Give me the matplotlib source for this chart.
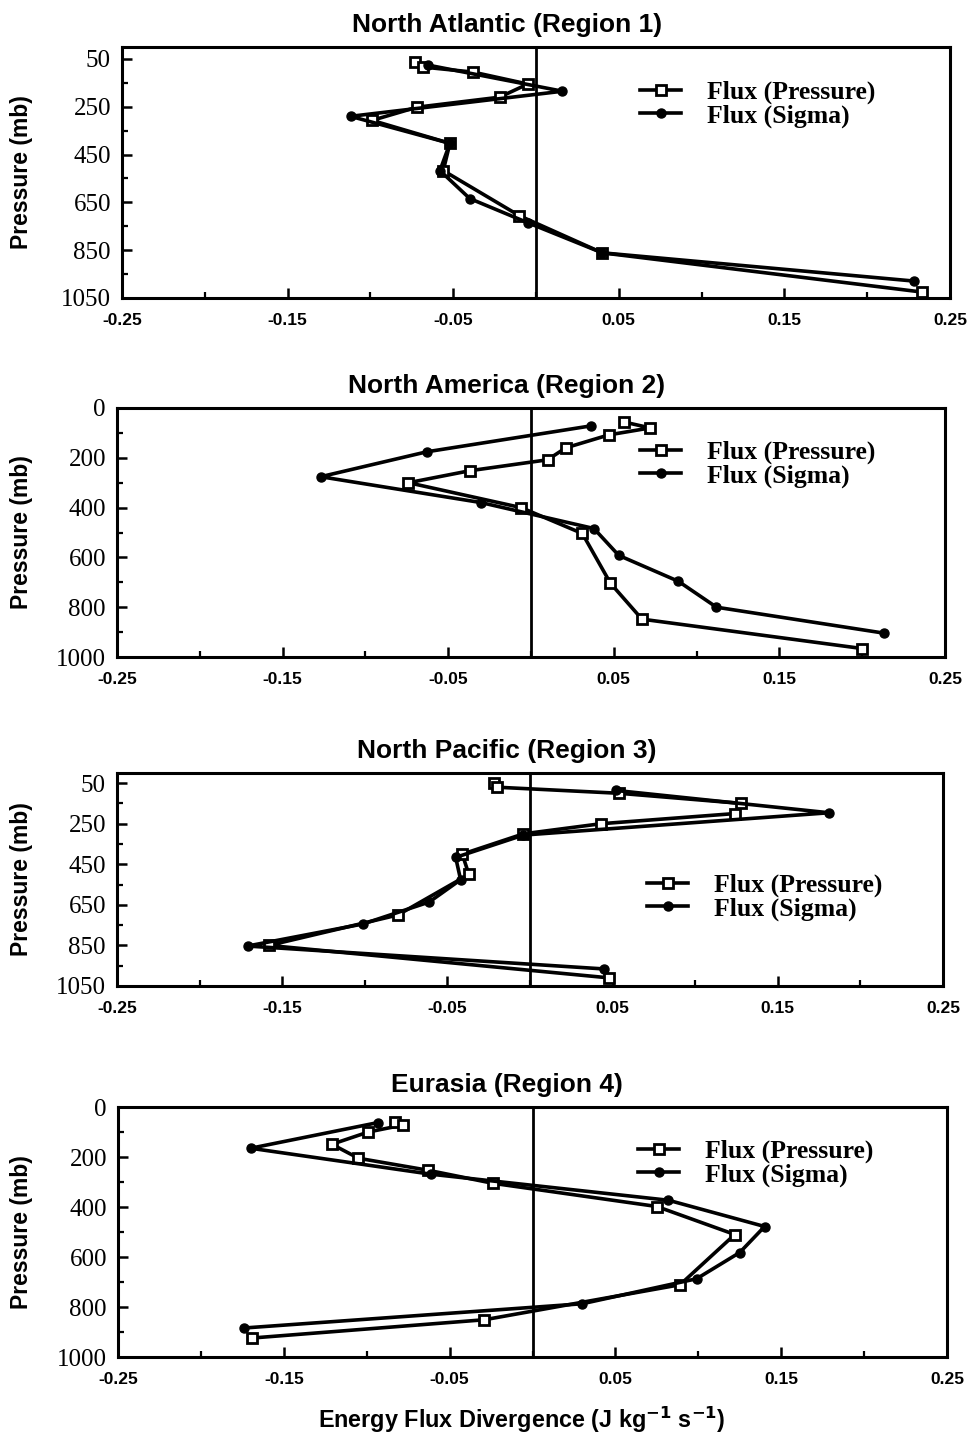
import matplotlib
matplotlib.use("Agg")

import matplotlib.pyplot as plt
from matplotlib.ticker import MultipleLocator, FixedLocator

# North Atlantic (Region 1)
atl_p_lev = [63, 84, 105, 155, 210, 252, 307, 403, 517, 706, 861, 1025]
atl_p_flux = [-0.073, -0.068, -0.038, -0.005, -0.022, -0.072, -0.099, -0.052, -0.056, -0.010, 0.040, 0.233]
atl_s_lev = [76, 185, 290, 403, 517, 634, 735, 861, 979]
atl_s_flux = [-0.065, 0.016, -0.112, -0.052, -0.058, -0.040, -0.005, 0.040, 0.228]

# North America (Region 2)
nam_p_lev = [56, 80, 108, 160, 208, 252, 300, 400, 504, 704, 848, 966]
nam_p_flux = [0.056, 0.072, 0.047, 0.021, 0.010, -0.037, -0.074, -0.006, 0.031, 0.048, 0.067, 0.200]
nam_s_lev = [72, 176, 276, 380, 484, 592, 696, 800, 904]
nam_s_flux = [0.036, -0.063, -0.127, -0.030, 0.038, 0.053, 0.089, 0.112, 0.213]

# North Pacific (Region 3)
npa_p_lev = [50, 70, 100, 150, 200, 250, 300, 400, 500, 700, 850, 1010]
npa_p_flux = [-0.022, -0.020, 0.054, 0.128, 0.124, 0.043, -0.004, -0.041, -0.037, -0.080, -0.158, 0.048]
npa_s_lev = [86, 196, 306, 416, 526, 636, 744, 853, 966]
npa_s_flux = [0.052, 0.181, -0.004, -0.045, -0.042, -0.061, -0.101, -0.171, 0.045]

# Eurasia (Region 4)
eur_p_lev = [60, 72, 100, 149, 205, 253, 305, 398, 510, 711, 851, 924]
eur_p_flux = [-0.083, -0.078, -0.099, -0.121, -0.105, -0.063, -0.024, 0.075, 0.122, 0.089, -0.029, -0.169]
eur_s_lev = [62, 165, 269, 373, 478, 582, 687, 787, 884]
eur_s_flux = [-0.093, -0.170, -0.061, 0.082, 0.140, 0.125, 0.099, 0.030, -0.174]

titles = [
    "North Atlantic (Region 1)",
    "North America (Region 2)",
    "North Pacific (Region 3)",
    "Eurasia (Region 4)",
]

x_ticks = [-0.25, -0.15, -0.05, 0.05, 0.15, 0.25]
x_tick_labels = ["-0.25", "-0.15", "-0.05", "0.05", "0.15", "0.25"]
y_ticks_a = [50, 250, 450, 650, 850, 1050]
y_ticks_b = [0, 200, 400, 600, 800, 1000]

panels = [
    (atl_p_flux, atl_p_lev, atl_s_flux, atl_s_lev, y_ticks_a, 1050),
    (nam_p_flux, nam_p_lev, nam_s_flux, nam_s_lev, y_ticks_b, 1000),
    (npa_p_flux, npa_p_lev, npa_s_flux, npa_s_lev, y_ticks_a, 1050),
    (eur_p_flux, eur_p_lev, eur_s_flux, eur_s_lev, y_ticks_b, 1000),
]

# axes boxes in pixels: left, right, top, bottom
boxes = [
    (122, 950, 47, 298),
    (117, 945, 408, 657),
    (117, 943, 773, 986),
    (118, 947, 1107, 1357),
]

# legend anchor (upper left, pixels)
legend_pos = [(640, 81), (640, 441), (647, 874), (638, 1140)]

W, H = 972, 1438
fig = plt.figure(figsize=(W / 100, H / 100), dpi=100)

sans = "Liberation Sans"
serif = "Liberation Serif"

for i, (pf, pl, sf, sl, yt, ybot) in enumerate(panels):
    l, r, t, b = boxes[i]
    ax = fig.add_axes([l / W, 1 - b / H, (r - l) / W, (b - t) / H])

    ax.plot(
        pf, pl,
        color="black",
        linewidth=2.6,
        marker="s",
        markersize=6.5,
        markerfacecolor="white",
        markeredgecolor="black",
        markeredgewidth=2,
        label="Flux (Pressure)"
    )

    ax.plot(
        sf, sl,
        color="black",
        linewidth=2.6,
        marker="o",
        markersize=6.5,
        markerfacecolor="black",
        label="Flux (Sigma)"
    )

    ax.axvline(0, color="black", linewidth=2)

    ax.set_xlim(-0.25, 0.25)
    ax.set_ylim(ybot, 0)

    ax.set_xticks(x_ticks)
    ax.set_xticklabels(x_tick_labels, fontfamily=sans, fontweight="bold", fontsize=12.5)
    ax.xaxis.set_minor_locator(MultipleLocator(0.1))

    ax.set_yticks(yt)
    ax.set_yticklabels([str(v) for v in yt], fontfamily=serif, fontsize=18)
    if ybot == 1000:
        ax.yaxis.set_minor_locator(MultipleLocator(100))
    else:
        ax.yaxis.set_minor_locator(FixedLocator([150, 350, 550, 750, 950]))

    ax.tick_params(which="major", direction="in", length=7, width=1.8, pad=8, top=False, right=False)
    ax.tick_params(which="minor", direction="in", length=4, width=1.6, top=False, right=False)
    ax.tick_params(axis="x", which="major", pad=11)

    for s in ax.spines.values():
        s.set_linewidth(2.2)

    ax.set_title(
        titles[i],
        fontfamily=sans,
        fontweight="bold",
        fontsize=19,
        x=(507 - l) / (r - l),
        pad=11
    )

    ax.set_ylabel(
        "Pressure (mb)",
        fontfamily=sans,
        fontweight="bold",
        fontsize=16.5
    )
    ax.yaxis.set_label_coords(-(l - 33) / (r - l), 0.5)

    lx, ly = legend_pos[i]
    ax.legend(
        loc="upper left",
        bbox_to_anchor=((lx - l) / (r - l), (b - ly) / (b - t)),
        frameon=False,
        prop={"family": serif, "weight": "bold", "size": 18.5},
        handlelength=1.6,
        handletextpad=1.0,
        labelspacing=0.0,
        borderpad=0,
        borderaxespad=0
    )

fig.text(
    522 / W, 1 - 1420 / H,
    "Energy Flux Divergence (J kg$^{\\mathbf{-1}}$ s$^{\\mathbf{-1}}$)",
    ha="center",
    va="center",
    fontfamily=sans,
    fontweight="bold",
    fontsize=16.8
)

plt.savefig("out.png", dpi=100)
plt.close()
